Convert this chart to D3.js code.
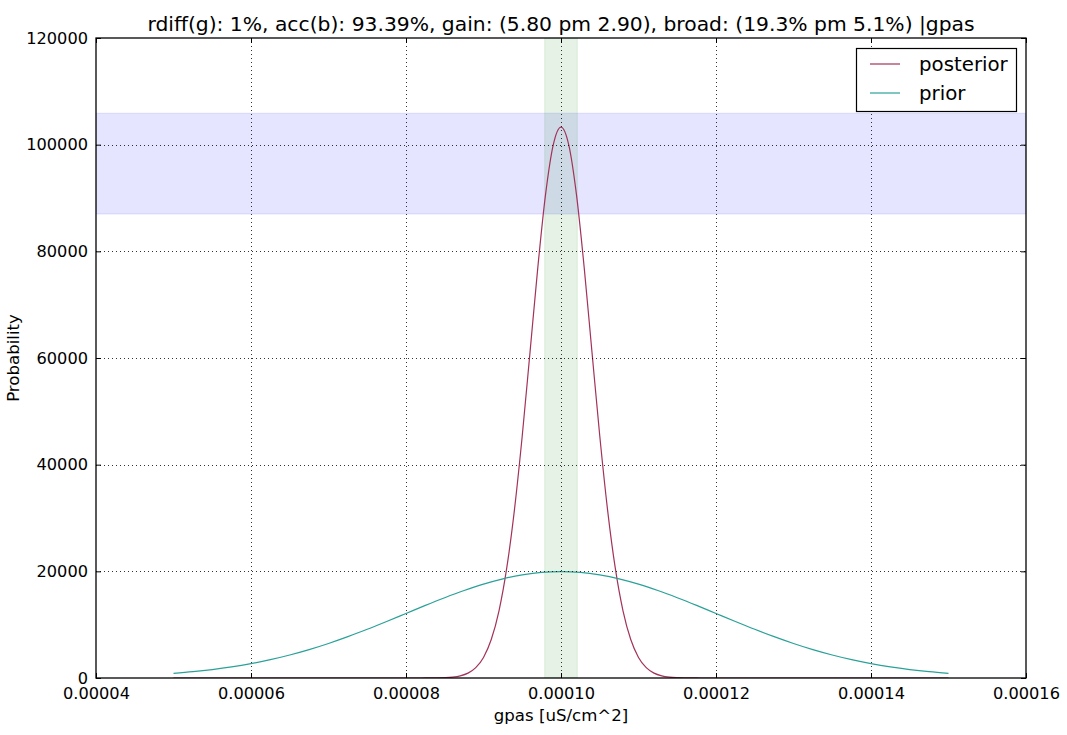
<!DOCTYPE html>
<html>
<head>
<meta charset="utf-8">
<script src="https://cdn.jsdelivr.net/npm/d3@7"></script>
<style>
  html, body { margin: 0; padding: 0; background: #fff; }
  svg { display: block; font-family: "DejaVu Sans", sans-serif; }
</style>
</head>
<body>
<svg id="chart" width="1067" height="735"></svg>
<script>
// ---- data ----
const titleText = "rdiff(g): 1%, acc(b): 93.39%, gain: (5.80 pm 2.90), broad: (19.3% pm 5.1%) |gpas";
const xLabel = "gpas [uS/cm^2]";
const yLabel = "Probability";
const seriesNames = ["posterior", "prior"];

const xTicks = [0.00004, 0.00006, 0.00008, 0.00010, 0.00012, 0.00014, 0.00016];
const xTickLabels = ["0.00004", "0.00006", "0.00008", "0.00010", "0.00012", "0.00014", "0.00016"];
const yTicks = [0, 20000, 40000, 60000, 80000, 100000, 120000];

// prior: x positions and probability
const priorX = [0.00005, 0.0000525, 0.000055, 0.0000575, 0.00006, 0.0000625, 0.000065, 0.0000675,
  0.00007, 0.0000725, 0.000075, 0.0000775, 0.00008, 0.0000825, 0.000085, 0.0000875,
  0.00009, 0.0000925, 0.000095, 0.0000975, 0.0001, 0.0001025, 0.000105, 0.0001075,
  0.00011, 0.0001125, 0.000115, 0.0001175, 0.00012, 0.0001225, 0.000125, 0.0001275,
  0.00013, 0.0001325, 0.000135, 0.0001375, 0.00014, 0.0001425, 0.000145, 0.0001475, 0.00015];
const priorY = [877, 1190, 1588, 2085, 2700, 3440, 4315, 5325,
  6476, 7750, 9132, 10590, 12099, 13610, 15056, 16400,
  17603, 18600, 19333, 19800, 19947, 19800, 19333, 18600,
  17603, 16400, 15056, 13610, 12099, 10590, 9132, 7750,
  6476, 5325, 4315, 3440, 2700, 2085, 1588, 1190, 877];

// posterior
const postX = [0.00005, 0.00006, 0.00007, 0.000075, 0.00008, 0.000082, 0.000083, 0.000084, 0.000085,
  0.000086, 0.000087, 0.000088, 0.000089, 0.00009, 0.000091, 0.000092, 0.000093, 0.000094,
  0.000095, 0.000096, 0.000097, 0.000098, 0.000099, 0.0001, 0.000101, 0.000102, 0.000103,
  0.000104, 0.000105, 0.000106, 0.000107, 0.000108, 0.000109, 0.00011, 0.000111, 0.000112,
  0.000113, 0.000114, 0.000115, 0.000116, 0.000117, 0.000118, 0.00012, 0.000125, 0.00013, 0.00014, 0.00015];
const postY = [0, 0, 0, 0, 0, 3, 9, 23, 63,
  164, 399, 909, 1935, 3859, 7208, 12603, 20640, 31630,
  45410, 61050, 76845, 90573, 99964, 103300, 99964, 90573, 76845,
  61050, 45410, 31630, 20640, 12603, 7208, 3859, 1935, 909,
  399, 164, 63, 23, 9, 3, 0, 0, 0, 0, 0];

// shaded bands
const greenBand = [0.0000979, 0.0001021];
const blueBand = [87000, 105900];

const colors = { posterior: "#a3325a", prior: "#2aa198" };

// ---- layout ----
const svg = d3.select("#chart");
const m = { left: 96, top: 38, right: 1026, bottom: 678 };
const x = d3.scaleLinear().domain([0.00004, 0.00016]).range([m.left, m.right]);
const y = d3.scaleLinear().domain([0, 120000]).range([m.bottom, m.top]);

const defs = svg.append("defs");
defs.append("clipPath").attr("id", "clip").append("rect")
  .attr("x", m.left).attr("y", m.top).attr("width", m.right - m.left).attr("height", m.bottom - m.top);

const plot = svg.append("g").attr("clip-path", "url(#clip)");

// bands
plot.append("rect")
  .attr("x", m.left).attr("width", m.right - m.left)
  .attr("y", y(blueBand[1])).attr("height", y(blueBand[0]) - y(blueBand[1]))
  .attr("fill", "rgb(0,0,255)").attr("fill-opacity", 0.1)
  .attr("stroke", "rgb(0,0,255)").attr("stroke-opacity", 0.1);
plot.append("rect")
  .attr("x", x(greenBand[0])).attr("width", x(greenBand[1]) - x(greenBand[0]))
  .attr("y", m.top).attr("height", m.bottom - m.top)
  .attr("fill", "rgb(0,128,0)").attr("fill-opacity", 0.1)
  .attr("stroke", "rgb(0,128,0)").attr("stroke-opacity", 0.1);

// grid
const grid = svg.append("g").attr("stroke", "#000").attr("stroke-width", 0.8)
  .attr("stroke-dasharray", "1,3");
xTicks.slice(1, -1).forEach(t => {
  grid.append("line").attr("x1", Math.round(x(t)) + 0.5).attr("x2", Math.round(x(t)) + 0.5)
    .attr("y1", m.top).attr("y2", m.bottom);
});
yTicks.slice(1, -1).forEach(t => {
  grid.append("line").attr("y1", Math.round(y(t)) + 0.5).attr("y2", Math.round(y(t)) + 0.5)
    .attr("x1", m.left).attr("x2", m.right);
});

// lines
const line = d3.line().x(d => x(d[0])).y(d => y(d[1])).curve(d3.curveMonotoneX);
plot.append("path").datum(d3.zip(postX, postY)).attr("d", line)
  .attr("fill", "none").attr("stroke", colors.posterior).attr("stroke-width", 1.2);
plot.append("path").datum(d3.zip(priorX, priorY)).attr("d", line)
  .attr("fill", "none").attr("stroke", colors.prior).attr("stroke-width", 1.2);

// axes (ticks inward, on all sides)
const tickLen = 5;
const xAxisB = d3.axisBottom(x).tickValues(xTicks).tickFormat((d, i) => xTickLabels[i])
  .tickSizeInner(-tickLen).tickSizeOuter(0).tickPadding(9);
const xAxisT = d3.axisTop(x).tickValues(xTicks).tickFormat("")
  .tickSizeInner(-tickLen).tickSizeOuter(0);
const yAxisL = d3.axisLeft(y).tickValues(yTicks).tickFormat(d3.format("d"))
  .tickSizeInner(-tickLen).tickSizeOuter(0).tickPadding(8);
const yAxisR = d3.axisRight(y).tickValues(yTicks).tickFormat("")
  .tickSizeInner(-tickLen).tickSizeOuter(0);

function styleAxis(g) {
  g.select(".domain").remove();
  g.selectAll(".tick line").attr("stroke", "#000").attr("stroke-width", 1);
  g.selectAll(".tick text").attr("fill", "#000").attr("font-size", 16.2)
    .attr("font-family", "DejaVu Sans, sans-serif");
}
svg.append("g").attr("transform", `translate(0,${m.bottom})`).call(xAxisB).call(styleAxis);
svg.append("g").attr("transform", `translate(0,${m.top})`).call(xAxisT).call(styleAxis);
svg.append("g").attr("transform", `translate(${m.left},0)`).call(yAxisL).call(styleAxis);
svg.append("g").attr("transform", `translate(${m.right},0)`).call(yAxisR).call(styleAxis);

// frame
svg.append("rect").attr("x", m.left).attr("y", m.top)
  .attr("width", m.right - m.left).attr("height", m.bottom - m.top)
  .attr("fill", "none").attr("stroke", "#000").attr("stroke-width", 1.3);

// title & labels
svg.append("text").attr("x", (m.left + m.right) / 2).attr("y", 31)
  .attr("text-anchor", "middle").attr("font-size", 20.3).attr("fill", "#000").text(titleText);
svg.append("text").attr("x", (m.left + m.right) / 2).attr("y", 721)
  .attr("text-anchor", "middle").attr("font-size", 16.6).attr("fill", "#000").text(xLabel);
svg.append("text").attr("transform", `translate(19,${(m.top + m.bottom) / 2}) rotate(-90)`)
  .attr("text-anchor", "middle").attr("font-size", 16.6).attr("fill", "#000").text(yLabel);

// legend
const lg = svg.append("g");
lg.append("rect").attr("x", 856.5).attr("y", 48.5).attr("width", 160).attr("height", 63)
  .attr("fill", "#fff").attr("stroke", "#000").attr("stroke-width", 1.2);
seriesNames.forEach((name, i) => {
  const yy = 64 + i * 29;
  lg.append("line").attr("x1", 870).attr("x2", 900).attr("y1", yy).attr("y2", yy)
    .attr("stroke", colors[name]).attr("stroke-width", 1.2);
  lg.append("text").attr("x", 919).attr("y", yy + 7).attr("font-size", 19.8)
    .attr("fill", "#000").text(name);
});
</script>
</body>
</html>
